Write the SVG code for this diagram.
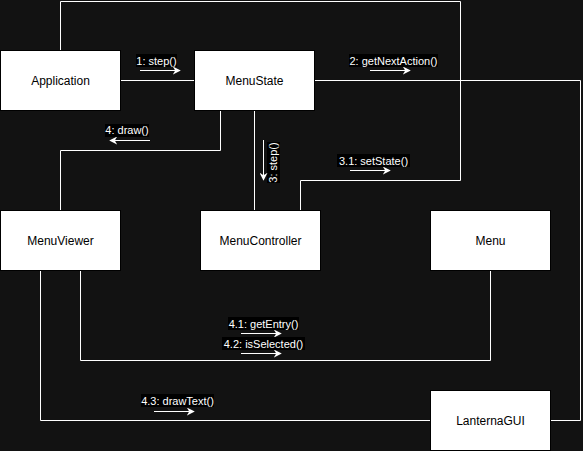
<svg xmlns="http://www.w3.org/2000/svg" width="583" height="451" viewBox="0 0 583 451">
<defs>
<style>
.box{fill:#fff;stroke:#000;stroke-width:1}
.bl{font-family:"Liberation Sans",Arial,sans-serif;font-size:12px;fill:#000;text-anchor:middle}
.conn{fill:none;stroke:#fff;stroke-width:1}
.arr{fill:none;stroke:#fff;stroke-width:1;marker-end:url(#ah)}
.el{font-family:"Liberation Sans",Arial,sans-serif;font-size:11px;fill:#fff;text-anchor:middle}
.lb{fill:#000}
</style>
<marker id="ah" viewBox="0 0 10 10" refX="9" refY="5" markerWidth="8" markerHeight="8" markerUnits="userSpaceOnUse" orient="auto">
<path d="M0,0 L10,5 L0,10 L3,5 Z" fill="#fff"/>
</marker>
</defs>
<rect width="583" height="451" fill="#121212"/>
<g id="connectors">
<path class="conn" d="M60.5,50 V1.5 H460.5 V180.5 H300.5 V210"/>
<path class="conn" d="M120,80.5 H195"/>
<path class="conn" d="M315,80.5 H580.5 V420.5 H551"/>
<path class="conn" d="M220.5,110 V150.5 H60.5 V210"/>
<path class="conn" d="M254.5,110 V210"/>
<path class="conn" d="M40.5,270 V420.5 H431"/>
<path class="conn" d="M80.5,270 V360.5 H490.5 V270"/>
</g>
<g id="labels">
<rect class="lb" x="136" y="54" width="41" height="13"/>
<text class="el" x="156.5" y="65">1: step()</text>
<path class="arr" d="M140,70.5 H180"/>
<rect class="lb" x="349" y="54" width="89" height="13"/>
<text class="el" x="393.5" y="65">2: getNextAction()</text>
<path class="arr" d="M370,70.5 H410"/>
<rect class="lb" x="105" y="124" width="44" height="13"/>
<text class="el" x="127" y="134">4: draw()</text>
<path class="arr" d="M150,140.5 H110"/>
<rect class="lb" x="267" y="142" width="13" height="41"/>
<text class="el" transform="translate(277,162.5) rotate(-90)" x="0" y="0">3: step()</text>
<path class="arr" d="M263.5,140 V180"/>
<rect class="lb" x="337" y="154" width="73" height="13"/>
<text class="el" x="373.5" y="165">3.1: setState()</text>
<path class="arr" d="M350,170.5 H390"/>
<rect class="lb" x="228" y="317" width="71" height="13"/>
<text class="el" x="263.5" y="328">4.1: getEntry()</text>
<path class="arr" d="M241,333.5 H281"/>
<rect class="lb" x="222" y="337" width="83" height="13"/>
<text class="el" x="263.5" y="348">4.2: isSelected()</text>
<path class="arr" d="M241,353.5 H281"/>
<rect class="lb" x="141" y="394" width="73" height="13"/>
<text class="el" x="177.5" y="405">4.3: drawText()</text>
<path class="arr" d="M154,411.5 H194"/>
</g>
<g id="Application">
<rect class="box" x="0.5" y="50.5" width="120" height="60"/>
<text class="bl" x="60.5" y="84.5">Application</text>
</g>
<g id="MenuState">
<rect class="box" x="194.5" y="50.5" width="120" height="60"/>
<text class="bl" x="254.5" y="84.5">MenuState</text>
</g>
<g id="MenuViewer">
<rect class="box" x="0.5" y="210.5" width="120" height="60"/>
<text class="bl" x="60.5" y="244.5">MenuViewer</text>
</g>
<g id="MenuController">
<rect class="box" x="200.5" y="210.5" width="120" height="60"/>
<text class="bl" x="260.5" y="244.5">MenuController</text>
</g>
<g id="Menu">
<rect class="box" x="430.5" y="210.5" width="120" height="60"/>
<text class="bl" x="490.5" y="244.5">Menu</text>
</g>
<g id="LanternaGUI">
<rect class="box" x="430.5" y="390.5" width="120" height="60"/>
<text class="bl" x="490.5" y="424.5">LanternaGUI</text>
</g>
</svg>
